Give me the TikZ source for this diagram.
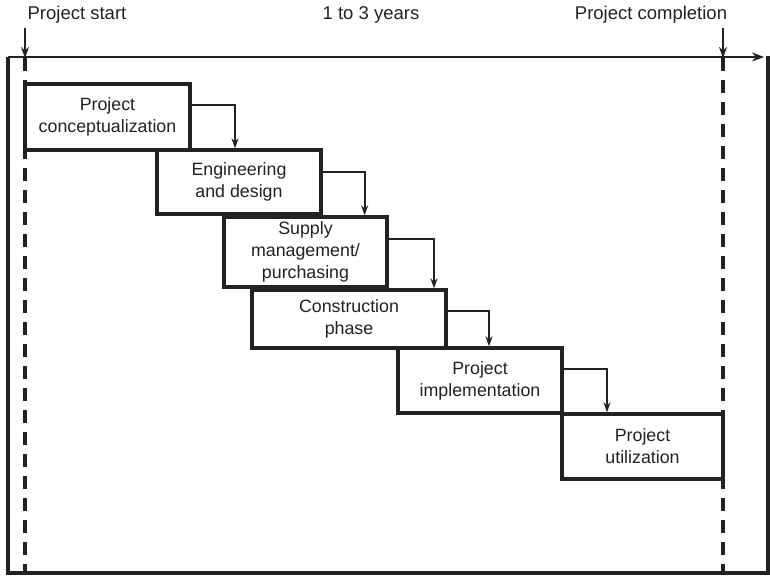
\documentclass[tikz,border=0pt]{standalone}
\usepackage{fontspec}
\setmainfont{Liberation Sans}
\usetikzlibrary{arrows.meta}
\definecolor{ink}{HTML}{222222}
\begin{document}
\begin{tikzpicture}[x=1pt,y=-1pt,
  font=\fontsize{17.8}{22}\selectfont,
  box/.style={draw=ink, line width=3.3pt, fill=white, align=center, inner sep=0pt, text=ink},
  conn/.style={draw=ink, line width=1.7pt, -{Stealth[length=10pt,width=7pt]}},
  frame/.style={draw=ink, line width=3.6pt},
  dashline/.style={draw=ink, line width=3.6pt, dash pattern=on 13pt off 9pt},
  marker/.style={draw=ink, line width=2.4pt, -{Stealth[length=11pt,width=8pt]}},
  lbl/.style={text=ink, inner sep=0pt, font=\fontsize{18.5}{22}\selectfont}]
\useasboundingbox (0,0) rectangle (770,575);
% frame
\draw[frame] (8,57) -- (8,573) -- (768,573) -- (768,56);
\coordinate (axL) at (8,57);
\coordinate (axR) at (764,57);
\draw[draw=ink, line width=2.6pt, -{Stealth[length=12pt,width=9pt]}] (axL) -- (axR);
% dashed milestone lines
\coordinate (ds1) at (25,58);
\coordinate (de1) at (25,573);
\coordinate (ds2) at (723,58);
\coordinate (de2) at (723,573);
\draw[dashline] (ds1) -- (de1);
\draw[dashline] (ds2) -- (de2);
% labels
\node[lbl] (start) at (77,15) {Project start};
\node[lbl] (years) at (371,15) {1 to 3 years};
\node[lbl] (compl) at (651,15) {Project completion};
\coordinate (m1) at (25,28);
\coordinate (m2) at (723,28);
\draw[marker] (m1) -- (ds1);
\draw[marker] (m2) -- (ds2);
% boxes
\node[box, minimum width=165pt, minimum height=66pt] (b1) at (107.5,117) {Project\\conceptualization};
\node[box, minimum width=164pt, minimum height=64pt] (b2) at (239,182) {Engineering\\and design};
\node[box, minimum width=163pt, minimum height=70pt] (b3) at (305.5,252) {Supply\\management/\\purchasing};
\node[box, minimum width=194pt, minimum height=58pt] (b4) at (349,319) {Construction\\phase};
\node[box, minimum width=164pt, minimum height=65pt] (b5) at (480,380.5) {Project\\implementation};
\node[box, minimum width=161pt, minimum height=65pt] (b6) at (642.5,446.5) {Project\\utilization};
% connectors
\draw[conn] ([yshift=12pt]b1.east) -| ([xshift=-4pt]b2.north);
\draw[conn] ([yshift=10pt]b2.east) -| ([xshift=-24pt]b3.north east);
\draw[conn] ([yshift=13pt]b3.east) -| ([xshift=85pt]b4.north);
\draw[conn] ([yshift=8pt]b4.east) -| ([xshift=9pt]b5.north);
\draw[conn] ([yshift=11.5pt]b5.east) -| ([xshift=-35.5pt]b6.north);
\end{tikzpicture}
\end{document}
